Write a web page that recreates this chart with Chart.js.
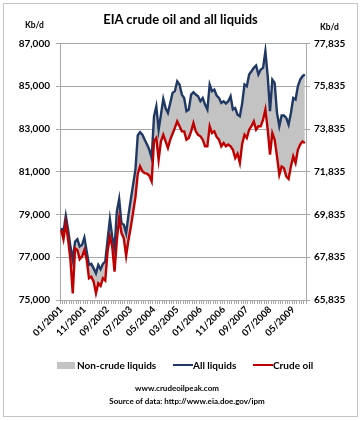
<!DOCTYPE html>
<html><head><meta charset="utf-8">
<script src="https://cdn.jsdelivr.net/npm/chart.js@4.4.1/dist/chart.umd.min.js"></script>
<style>
html,body{margin:0;padding:0;background:#fff;}
#wrap{position:relative;width:361px;height:421px;overflow:hidden;font-family:Lato,'Open Sans',sans-serif;color:#000;}
#frame{position:absolute;left:3px;top:3px;width:353px;height:412px;border:1px solid #c4c4c4;}
canvas{position:absolute;left:0;top:0;}
.t{position:absolute;font-weight:bold;white-space:nowrap;line-height:1;}
.box{position:absolute;}
</style></head>
<body>
<div id="wrap">
<div id="frame"></div>
<canvas id="c" width="361" height="421"></canvas>
<div class="t" style="left:0;width:361px;text-align:center;top:13px;font-size:13px;">EIA crude oil and all liquids</div>
<div class="t" style="left:25px;top:21px;font-size:8.5px;">Kb/d</div>
<div class="t" style="left:320px;top:23px;font-size:8.5px;">Kb/d</div>
<div class="box" style="left:57px;top:362px;width:18px;height:7px;background:#c3c3c3;"></div>
<div class="t" style="left:77px;top:360px;font-size:10px;">Non-crude liquids</div>
<div class="box" style="left:173px;top:364px;width:20px;height:2px;background:#1F3864;"></div>
<div class="t" style="left:193px;top:360px;font-size:10px;">All liquids</div>
<div class="box" style="left:253px;top:364px;width:20px;height:2px;background:#C00000;"></div>
<div class="t" style="left:273px;top:360px;font-size:10px;">Crude oil</div>
<div class="t" style="left:0;width:354px;text-align:center;top:384px;font-size:8px;">www.crudeoilpeak.com</div>
<div class="t" style="left:0;width:374px;text-align:center;top:397px;font-size:8px;">Source of data: http://www.eia.doe.gov/ipm</div>
</div>
<script>
const months = [
'01/2001','02/2001','03/2001','04/2001','05/2001','06/2001','07/2001','08/2001','09/2001','10/2001','11/2001','12/2001',
'01/2002','02/2002','03/2002','04/2002','05/2002','06/2002','07/2002','08/2002','09/2002','10/2002','11/2002','12/2002',
'01/2003','02/2003','03/2003','04/2003','05/2003','06/2003','07/2003','08/2003','09/2003','10/2003','11/2003','12/2003',
'01/2004','02/2004','03/2004','04/2004','05/2004','06/2004','07/2004','08/2004','09/2004','10/2004','11/2004','12/2004',
'01/2005','02/2005','03/2005','04/2005','05/2005','06/2005','07/2005','08/2005','09/2005','10/2005','11/2005','12/2005',
'01/2006','02/2006','03/2006','04/2006','05/2006','06/2006','07/2006','08/2006','09/2006','10/2006','11/2006','12/2006',
'01/2007','02/2007','03/2007','04/2007','05/2007','06/2007','07/2007','08/2007','09/2007','10/2007','11/2007','12/2007',
'01/2008','02/2008','03/2008','04/2008','05/2008','06/2008','07/2008','08/2008','09/2008','10/2008','11/2008','12/2008',
'01/2009','02/2009','03/2009','04/2009','05/2009','06/2009','07/2009','08/2009','09/2009','10/2009'
];
const xTickLabels = ['01/2001','11/2001','09/2002','07/2003','05/2004','03/2005','01/2006','11/2006','09/2007','07/2008','05/2009'];
const leftTicks = [75000,77000,79000,81000,83000,85000,87000];
const rightTicks = [65835,67835,69835,71835,73835,75835,77835];

// All liquids, Kb/d (left axis)
const allLiquids = [
78360,78200,78940,78280,77500,76880,77730,77840,77500,77580,77920,77270,
76640,76690,76480,76250,76640,76440,76690,76800,77810,78780,77970,77420,
79140,79720,78590,78520,78130,78980,79700,80400,81100,82700,82850,82730,
82500,82270,82030,81640,83590,84060,82970,83670,84410,83980,83750,84220,
84690,84770,85230,85080,84610,84450,83830,83910,84610,84720,84610,84530,
84300,84450,84140,83910,85080,84770,84840,84560,84450,84220,84300,84190,
84300,84530,83910,83980,83670,83600,84200,85080,85000,85550,85700,85860,
85970,85550,85780,85860,86640,85470,83830,85310,85160,83750,83130,83630,
83630,83520,83200,83750,84450,84380,85000,85310,85470,85550
];
// Crude oil, Kb/d (right axis)
const crudeOil = [
69115,68675,69425,68645,67715,66145,68255,68175,67745,67865,68175,67715,
66855,66925,66695,66145,66615,66495,66855,66745,68105,68805,68335,67165,
68645,69665,68965,68725,67895,68645,69235,69935,70635,71735,72085,71855,
71775,71745,71645,71385,73255,73415,72395,73255,73565,73255,72945,73335,
73615,73885,74195,73965,73725,73725,73335,73415,73725,74115,73725,73565,
73495,73335,73025,73025,73965,73645,73725,73465,73335,73025,73175,73025,
73105,73025,72865,72475,72675,72245,73135,73565,73415,73805,73965,74195,
73805,73965,73965,74275,74745,73805,72635,73645,73335,72555,71695,72085,
72005,71615,71495,72085,72555,72245,72865,73105,73255,73175
];

const GRID = '#a8a8a8';
const FONT = {family:'Lato', weight:'bold', size:10};

function build(){
  Chart.defaults.font.family = 'Lato';
  Chart.defaults.color = '#000';
  new Chart(document.getElementById('c'), {
    type:'line',
    data:{
      labels: months,
      datasets:[
        {label:'Non-crude liquids', data: allLiquids, yAxisID:'y', borderWidth:0, borderColor:'rgba(0,0,0,0)',
         backgroundColor:'#c3c3c3', fill:2, pointRadius:0, order:3},
        {label:'All liquids', data: allLiquids, yAxisID:'y', borderColor:'#1F3864', borderWidth:2.4,
         pointRadius:0, fill:false, tension:0, order:2},
        {label:'Crude oil', data: crudeOil, yAxisID:'y2', borderColor:'#C00000', borderWidth:2.4,
         pointRadius:0, fill:false, tension:0, order:1}
      ]
    },
    options:{
      responsive:false, animation:false, devicePixelRatio:1,
      layout:{padding:{top:43.5, left:0, right:0, bottom:0}},
      plugins:{legend:{display:false}, tooltip:{enabled:false}, title:{display:false},
               filler:{drawTime:'beforeDatasetsDraw'}},
      scales:{
        x:{
          offset:true,
          grid:{offset:true, drawOnChartArea:false, drawTicks:true, tickLength:4, color:GRID},
          border:{color:GRID},
          ticks:{autoSkip:false, minRotation:45, maxRotation:45, padding:0, font:{family:'Lato',weight:'bold',size:9.5},
            callback:function(v){ const l = this.getLabelForValue(v); return xTickLabels.includes(l) ? l : ''; }},
          afterFit:(s)=>{ s.height = 121; }
        },
        y:{
          position:'left', min:75000, max:87000,
          afterBuildTicks:(s)=>{ s.ticks = leftTicks.map(v=>({value:v})); },
          grid:{color:GRID, tickLength:4},
          border:{color:GRID},
          ticks:{padding:6, font:FONT, callback:(v)=>v.toLocaleString('en-US')},
          afterFit:(s)=>{ s.width = 60; }
        },
        y2:{
          position:'right', min:65835, max:77835,
          afterBuildTicks:(s)=>{ s.ticks = rightTicks.map(v=>({value:v})); },
          grid:{drawOnChartArea:false, color:GRID, tickLength:4},
          border:{color:GRID},
          ticks:{padding:4, font:FONT, callback:(v)=>v.toLocaleString('en-US')},
          afterFit:(s)=>{ s.width = 55; }
        }
      }
    }
  });
}
if (document.fonts && document.fonts.load) {
  Promise.all([document.fonts.load('bold 10px Lato'), document.fonts.load('10px Lato')]).then(build, build);
} else build();
</script>
</body></html>
